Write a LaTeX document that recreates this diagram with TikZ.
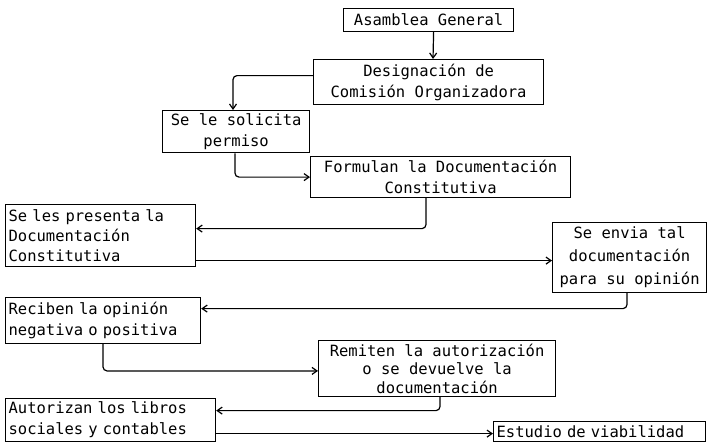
\documentclass[tikz,border=0pt]{standalone}
\usepackage{fontspec}
\setmonofont{DejaVu Sans Mono}
\usetikzlibrary{arrows.meta}
\begin{document}
\begin{tikzpicture}[x=1pt,y=-1pt,
  box/.style={draw,line width=1.2pt,rectangle,anchor=north west,inner sep=3pt,
    font=\ttfamily\fontsize{15.5}{21}\selectfont,align=center},
  link/.style={line width=1.2pt,rounded corners=4pt,-{Straight Barb[length=5pt,width=7pt]}}]
\useasboundingbox[fill=white] (0,0) rectangle (709,442);
\node[box,minimum width=170pt,minimum height=23pt] (b1) at (343,8) {Asamblea General};
\node[box,minimum width=230pt,minimum height=45pt] (b2) at (313,59) {Designación de\\Comisión Organizadora};
\node[box,minimum width=147pt,minimum height=40pt] (b3) at (162,110) {Se le solicita\\permiso};
\node[box,minimum width=260pt,minimum height=41pt] (b4) at (310,156) {Formulan la Documentación\\Constitutiva};
\node[box,minimum width=190pt,minimum height=62pt,text width=184pt,align=left,
  font=\ttfamily\fontsize{15.5}{20}\selectfont] (b5) at (5,204) {Se les presenta la\\Documentación\\Constitutiva};
\node[box,minimum width=154pt,minimum height=70pt,
  font=\ttfamily\fontsize{15.5}{23}\selectfont] (b6) at (552,222) {Se envia tal\\documentación\\para su opinión};
\node[box,minimum width=195pt,minimum height=46pt,text width=189pt,align=left] (b7) at (5,297) {Reciben la opinión\\negativa o positiva};
\node[box,minimum width=237pt,minimum height=55pt,
  font=\ttfamily\fontsize{15.5}{18.5}\selectfont] (b8) at (318,340) {Remiten la autorización\\o se devuelve la\\documentación};
\node[box,minimum width=210pt,minimum height=43pt,text width=204pt,align=left] (b9) at (5,398) {Autorizan los libros\\sociales y contables};
\node[box,minimum width=212pt,minimum height=20pt,inner ysep=1pt,text width=206pt,align=left] (b10) at (493,421) {Estudio de viabilidad};

\draw[link] ([xshift=5pt]b1.south) -- ([xshift=120pt]b2.north west);
\draw[link] ([yshift=6.5pt]b2.west) -| ([xshift=71pt]b3.north west);
\draw[link] ([xshift=73pt]b3.south west) |- (b4.west);
\draw[link] ([xshift=116pt]b4.south west) |- ([yshift=7pt]b5.east);
\draw[link] ([yshift=-25pt]b5.east) -- ([yshift=-3pt]b6.west);
\draw[link] ([xshift=75pt]b6.south west) |- ([yshift=12pt]b7.east);
\draw[link] ([xshift=98pt]b7.south west) |- ([yshift=-2.5pt]b8.west);
\draw[link] ([xshift=122pt]b8.south west) |- ([yshift=9.5pt]b9.east);
\draw[link] ([yshift=-13.5pt]b9.east) -- ([yshift=-2pt]b10.west);
\end{tikzpicture}
\end{document}
